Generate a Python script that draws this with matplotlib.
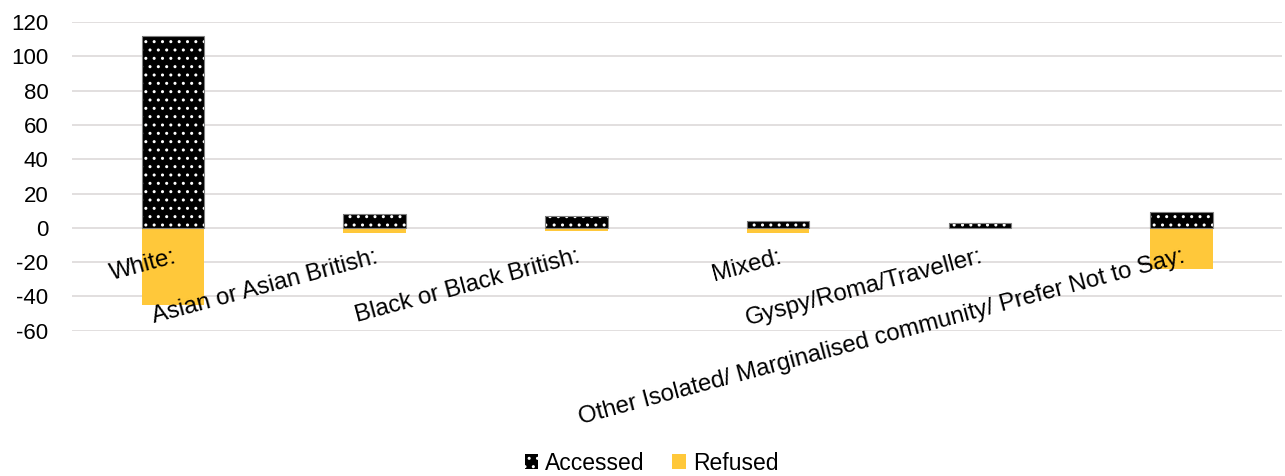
import numpy as np
import matplotlib.pyplot as plt
import matplotlib.transforms as mtransforms

plt.rcParams['font.family'] = ['Liberation Sans', 'DejaVu Sans']
plt.rcParams['axes.unicode_minus'] = False
plt.rcParams['hatch.linewidth'] = 1.0

categories = ["White:", "Asian or Asian British:", "Black or Black British:", "Mixed:",
              "Gyspy/Roma/Traveller:", "Other Isolated/ Marginalised community/ Prefer Not to Say:"]
accessed = [112, 8, 7, 4, 3, 9]
refused = [-45, -3, -2, -3, 0, -24]

fig = plt.figure(figsize=(12.85, 4.76), dpi=100)
ax = fig.add_axes([0.056, 0.305, 0.942, 0.649])

x = np.arange(len(categories))
w = 0.31
ax.bar(x, accessed, w, color='black', edgecolor='white', hatch='..', linewidth=0,
       label='Accessed', zorder=3)
# thin grey outline round the dotted bars
ax.bar(x, accessed, w, facecolor='none', edgecolor='#7F7F7F', linewidth=0.8, zorder=4)
ax.bar(x, refused, w, color='#FFC83A', linewidth=0, label='Refused', zorder=3)

ax.set_xlim(-0.5, len(categories) - 0.5)
ax.set_ylim(-60, 120)
ax.set_yticks(np.arange(-60, 121, 20))
ax.yaxis.grid(True, color='#DDD9D9', linewidth=1.2, zorder=0)
ax.set_axisbelow(True)
ax.tick_params(axis='y', length=0, labelsize=16, pad=17)
ax.set_xticks([])
for s in ax.spines.values():
    s.set_visible(False)

# category labels sit just under the zero line, rotated
off = mtransforms.offset_copy(ax.transData, fig=fig, x=0, y=-18, units='dots')
for i, c in enumerate(categories):
    ax.text(i, 0, c, transform=off, rotation=15, rotation_mode='anchor',
            ha='right', va='top', fontsize=17.3, zorder=5)

fig.legend(loc='center', bbox_to_anchor=(0.507, 0.027), ncol=2, frameon=False,
           fontsize=16.5, handlelength=0.6, handleheight=0.6, handletextpad=0.3,
           columnspacing=1.2)

fig.savefig('out.png', dpi=100)
